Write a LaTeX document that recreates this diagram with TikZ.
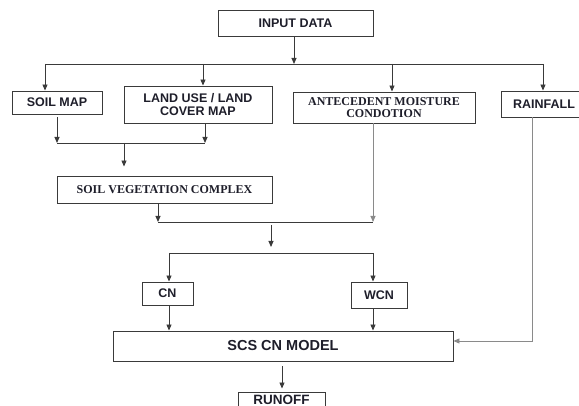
\documentclass[tikz,border=0pt]{standalone}
\usepackage{fontspec}
\setmainfont{Liberation Serif}
\setsansfont{Liberation Sans}
\usetikzlibrary{arrows.meta}
\definecolor{linecol}{HTML}{3A3A3A}
\definecolor{lightline}{HTML}{8A8A8A}
\definecolor{txtcol}{HTML}{1E1E2A}

\begin{document}
\begin{tikzpicture}[x=1pt,y=-1pt,
  line width=0.9pt,draw=linecol,
  >={Triangle[length=6pt,width=5pt]},
  main node/.style={rectangle,draw=linecol,line width=0.9pt,text=txtcol,inner sep=0pt,align=center,
    font=\sffamily\bfseries\fontsize{12.5}{13}\selectfont},
  serif node/.style={main node,font=\rmfamily\bfseries\fontsize{12}{12}\selectfont},
  pale/.style={draw=lightline}]

  \useasboundingbox (0,0) rectangle (579,406);
  \clip (0,0) rectangle (579,406);

  \node[main node,minimum width=155pt,minimum height=26pt] (1) at (295.5,23) {INPUT DATA};
  \node[main node,minimum width=90pt,minimum height=23pt] (2) at (57,102.5) {SOIL MAP};
  \node[main node,minimum width=148pt,minimum height=37pt] (3) at (198,104.5) {LAND USE / LAND\\COVER MAP};
  \node[serif node,minimum width=182pt,minimum height=31pt] (4) at (384,107.5) {ANTECEDENT MOISTURE\\CONDOTION};
  \node[main node,minimum width=86pt,minimum height=26pt] (5) at (544,104) {RAINFALL};
  \node[serif node,minimum width=215pt,minimum height=27pt] (6) at (164.5,189.5) {SOIL VEGETATION COMPLEX};
  \node[main node,minimum width=51pt,minimum height=23pt] (7) at (167.5,293.5) {CN};
  \node[main node,minimum width=56pt,minimum height=26pt] (8) at (379,295) {WCN};
  \node[main node,minimum width=340pt,minimum height=30pt,font=\sffamily\bfseries\fontsize{14.5}{15}\selectfont] (9) at (283,346) {SCS CN MODEL};
  \node[main node,minimum width=87pt,minimum height=15pt,font=\sffamily\bfseries\fontsize{13.5}{14}\selectfont] (10) at (281.5,399.5) {RUNOFF};

  \coordinate (b1) at (45,64);
  \coordinate (b2) at (203,64);
  \coordinate (b3) at (392,64);
  \coordinate (b4) at (543,64);
  \coordinate (m1) at (57,143);
  \coordinate (m2) at (205,143);
  \coordinate (m3) at (124,143);
  \coordinate (n1) at (158,222);
  \coordinate (n2) at (373,222);
  \coordinate (n3) at (271,222);
  \coordinate (s1) at (169,253);
  \coordinate (s2) at (373,253);
  \coordinate (r1) at (532,341);

  \draw[->] (1.south -| 294,0) -- (b1 -| 294,0);
  \draw (b1) -- (b4);
  \draw[->] (b1) -- (b1 |- 2.north);
  \draw[->] (b2) -- (b2 |- 3.north);
  \draw[->] (b3) -- (b3 |- 4.north);
  \draw[->] (b4) -- (b4 |- 5.north);

  \draw[->,shorten <=3pt] (m1 |- 2.south) -- (m1);
  \draw[->] (m2 |- 3.south) -- (m2);
  \draw (m1) -- (m2);
  \draw[->,shorten >=9pt] (m3) -- (m3 |- 6.north);

  \draw[->] (n1 |- 6.south) -- (n1);
  \draw[->,pale] (n2 |- 4.south) -- (n2);
  \draw (n1) -- (n2);
  \draw[->,shorten <=3pt,shorten >=6pt] (n3) -- (n3 |- s1);

  \draw (s1) -- (s2);
  \draw[->] (s1) -- (s1 |- 7.north);
  \draw[->] (s2) -- (s2 |- 8.north);
  \draw[->] (s1 |- 7.south) -- (s1 |- 9.north);
  \draw[->] (s2 |- 8.south) -- (s2 |- 9.north);

  \draw[->,pale] (r1 |- 5.south) -- (r1) -- (r1 -| 9.east);
  \draw[->,shorten <=5pt,shorten >=3pt] (282,0 |- 9.south) -- (282,0 |- 10.north);
\end{tikzpicture}
\end{document}
